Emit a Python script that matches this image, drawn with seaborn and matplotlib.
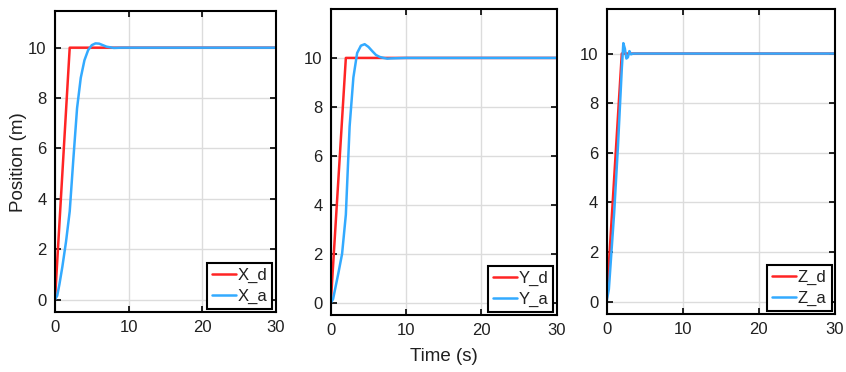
import seaborn as sns
import matplotlib.pyplot as plt

sns.set_theme(style="whitegrid")
plt.rcParams['font.family'] = ['Liberation Sans', 'DejaVu Sans']

# desired trajectories (ramp then hold)
t_d = [0, 2, 30]
pos_d = [0, 10, 10]

t_xa = [0, 0.3, 0.6, 1.0, 1.5, 2.0, 2.5, 3.0, 3.5, 4.0, 4.5, 5.0, 5.5, 6.0, 6.5, 7.0, 8.0, 9.0, 10, 30]
x_a = [0, 0.15, 0.6, 1.3, 2.3, 3.5, 5.6, 7.6, 8.8, 9.5, 9.9, 10.1, 10.17, 10.16, 10.1, 10.04, 9.99, 10.0, 10.0, 10.0]

t_ya = [0, 0.3, 0.6, 1.0, 1.5, 2.0, 2.5, 3.0, 3.5, 4.0, 4.5, 5.0, 5.5, 6.0, 6.5, 7.0, 7.5, 8.0, 10, 30]
y_a = [0, 0.15, 0.6, 1.2, 2.0, 3.6, 7.2, 9.2, 10.2, 10.5, 10.56, 10.45, 10.28, 10.12, 10.04, 10.0, 9.97, 9.98, 10.0, 10.0]

t_za = [0, 0.3, 1.0, 1.5, 2.0, 2.2, 2.4, 2.6, 2.8, 3.0, 3.2, 3.5, 4.0, 30]
z_a = [0, 0.5, 3.6, 6.3, 9.4, 10.42, 10.2, 9.8, 9.85, 10.1, 9.97, 10.0, 10.0, 10.0]

red = "#FF2424"
blue = "#33AAFF"

fig = plt.figure(figsize=(8.46, 3.72), dpi=100)
axes = [
    fig.add_axes([0.065, 0.161, 0.261, 0.809]),
    fig.add_axes([0.391, 0.153, 0.267, 0.823]),
    fig.add_axes([0.717, 0.156, 0.270, 0.820]),
]
series = [(t_xa, x_a, "X"), (t_ya, y_a, "Y"), (t_za, z_a, "Z")]
tops = [11.45, 12.0, 11.8]

for ax, (ta, pa, name), top in zip(axes, series, tops):
    sns.lineplot(x=t_d, y=pos_d, color=red, lw=1.8, label=f"{name}_d", ax=ax, sort=False)
    sns.lineplot(x=ta, y=pa, color=blue, lw=1.8, label=f"{name}_a", ax=ax, sort=False)
    ax.set_xlim(0, 30)
    ax.set_ylim(-0.5, top)
    ax.set_xticks([0, 10, 20, 30])
    ax.set_yticks([0, 2, 4, 6, 8, 10])
    ax.grid(True, color="#DCDCDC", lw=1.0)
    for s in ax.spines.values():
        s.set_color("black")
        s.set_linewidth(1.5)
    ax.tick_params(direction="in", length=4, width=1.2, color="black",
                   top=True, right=True, bottom=True, left=True,
                   labelsize=12, labelcolor="#202020", pad=6)
    ax.set_xlabel("")
    ax.set_ylabel("")
    leg = ax.legend(loc="lower right", fontsize=12, handlelength=1.45, handletextpad=0.1,
                    borderpad=0.3, borderaxespad=0.2, labelspacing=0.35,
                    fancybox=False, framealpha=1, edgecolor="black")
    leg.get_frame().set_linewidth(1.5)
    for txt in leg.get_texts():
        txt.set_color("#202020")

axes[0].set_ylabel("Position (m)", fontsize=13.5, color="#202020", labelpad=1)
axes[1].set_xlabel("Time (s)", fontsize=13.5, color="#202020", labelpad=7)

fig.savefig("out.png", dpi=100)
